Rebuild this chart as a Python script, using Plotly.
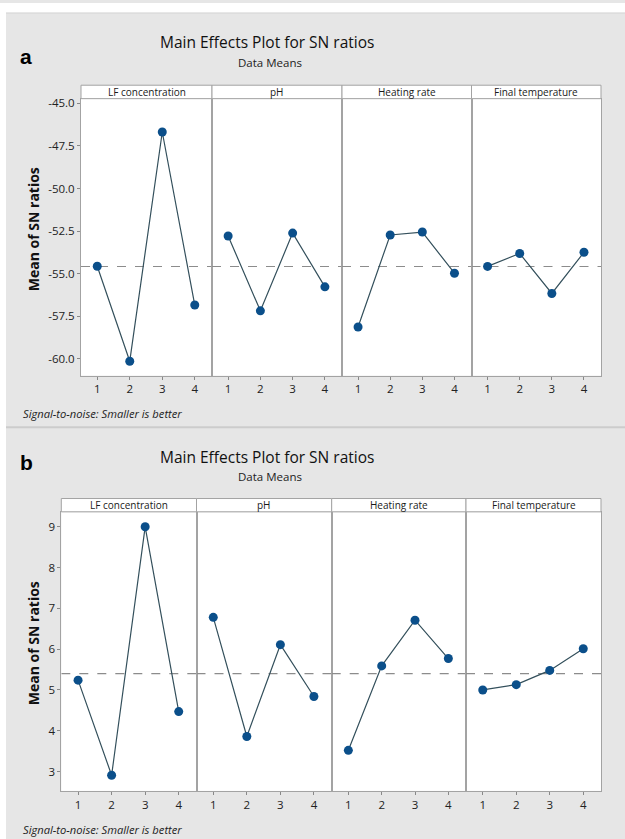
import plotly.graph_objects as go

W, H = 625, 839

factors = ["LF concentration", "pH", "Heating rate", "Final temperature"]
levels = [1, 2, 3, 4]

# Panel a: SN ratio means (negative)
a_lf = [-54.57, -60.15, -46.68, -56.85]
a_ph = [-52.79, -57.19, -52.62, -55.78]
a_hr = [-58.14, -52.73, -52.56, -54.98]
a_ft = [-54.58, -53.82, -56.17, -53.75]
a_yticks = [-45.0, -47.5, -50.0, -52.5, -55.0, -57.5, -60.0]

# Panel b: SN ratio means (positive)
b_lf = [5.24, 2.91, 9.00, 4.47]
b_ph = [6.78, 3.86, 6.11, 4.84]
b_hr = [3.52, 5.59, 6.71, 5.77]
b_ft = [5.00, 5.13, 5.48, 6.01]
b_yticks = [3, 4, 5, 6, 7, 8, 9]

title_text = "Main Effects Plot for SN ratios"
subtitle_text = "Data Means"
ytitle = "Mean of SN ratios"
note_text = "Signal-to-noise: Smaller is better"

FONT = "Open Sans, sans-serif"
MARKER = "#0b4f8a"
LINE = "#34505c"
BORDER = "#a3a3a3"
BG = "#e6e6e6"

panels = [
    dict(name="a", data=[a_lf, a_ph, a_hr, a_ft], yticks=a_yticks,
         xedges=[81, 212, 342, 471.5, 601], ytop=96, ybot=374, striptop=82.5,
         yrange=[-61.0, -44.72], fmt=".1f",
         title_y=39, sub_y=60, lab_y=54, ytitle_y=227, xtick_y=386, note_y=411.5),
    dict(name="b", data=[b_lf, b_ph, b_hr, b_ft], yticks=b_yticks,
         xedges=[61.3, 196.5, 331.7, 466, 601], ytop=510.7, ybot=790.7, striptop=497.3,
         yrange=[2.526, 9.366], fmt="d",
         title_y=456, sub_y=475.5, lab_y=461, ytitle_y=642.5, xtick_y=802.7, note_y=829.3),
]

def px(x):
    return x / W

def py(y):
    return 1 - y / H

fig = go.Figure()
shapes = []
annotations = []

shapes.append(dict(type="rect", xref="paper", yref="paper", x0=0, x1=1, y0=py(10), y1=1,
                   fillcolor="white", line=dict(width=0), layer="below"))
shapes.append(dict(type="rect", xref="paper", yref="paper", x0=0, x1=px(6), y0=0, y1=1,
                   fillcolor="white", line=dict(width=0), layer="below"))
shapes.append(dict(type="line", xref="paper", yref="paper", x0=px(6), x1=1, y0=py(10), y1=py(10),
                   line=dict(color="#d4d4d4", width=1), layer="below"))
shapes.append(dict(type="line", xref="paper", yref="paper", x0=px(6), x1=1, y0=py(425.7), y1=py(425.7),
                   line=dict(color="#cccccc", width=2), layer="below"))

layout_axes = {}
idx = 0
for p in panels:
    vals_all = [v for s in p["data"] for v in s]
    grand_mean = sum(vals_all) / len(vals_all)
    for j, (fac, vals) in enumerate(zip(factors, p["data"])):
        idx += 1
        xa = "x" if idx == 1 else f"x{idx}"
        ya = "y" if idx == 1 else f"y{idx}"
        xkey = "xaxis" if idx == 1 else f"xaxis{idx}"
        ykey = "yaxis" if idx == 1 else f"yaxis{idx}"
        x0, x1 = p["xedges"][j], p["xedges"][j + 1]
        xr = [0.5, 4.53]
        fig.add_trace(go.Scatter(x=xr, y=[grand_mean, grand_mean], mode="lines",
                                 line=dict(color="#8c8c8c", width=1.2, dash="dash"),
                                 xaxis=xa, yaxis=ya, showlegend=False, hoverinfo="skip"))
        fig.add_trace(go.Scatter(x=levels, y=vals, mode="lines+markers",
                                 line=dict(color=LINE, width=1.2),
                                 marker=dict(color=MARKER, size=9),
                                 xaxis=xa, yaxis=ya, showlegend=False))
        layout_axes[xkey] = dict(domain=[px(x0), px(x1)], anchor=ya, range=xr,
                                 tickmode="array", tickvals=levels, ticktext=[str(l) for l in levels],
                                 showline=True, linecolor=BORDER, linewidth=1, mirror=True,
                                 ticks="outside", ticklen=3, tickcolor="#888888",
                                 showgrid=False, zeroline=False,
                                 tickfont=dict(family=FONT, size=11.5, color="#222222"))
        yax = dict(domain=[py(p["ybot"]), py(p["ytop"])], anchor=xa, range=p["yrange"],
                   showline=True, linecolor=BORDER, linewidth=1, mirror=True,
                   showgrid=False, zeroline=False)
        if j == 0:
            if p["fmt"] == ".1f":
                tt = [f"{t:.1f}" for t in p["yticks"]]
            else:
                tt = [str(t) for t in p["yticks"]]
            yax.update(tickmode="array", tickvals=p["yticks"], ticktext=tt,
                       ticks="outside", ticklen=3, tickcolor="#888888",
                       tickfont=dict(family=FONT, size=11.5, color="#222222"))
        else:
            yax.update(showticklabels=False, ticks="")
        layout_axes[ykey] = yax
        shapes.append(dict(type="rect", xref="paper", yref="paper",
                           x0=px(x0), x1=px(x1), y0=py(p["ytop"]), y1=py(p["striptop"]),
                           fillcolor="white", line=dict(color=BORDER, width=1)))
        annotations.append(dict(text=fac, xref="paper", yref="paper",
                                x=px((x0 + x1) / 2), y=py((p["ytop"] + p["striptop"]) / 2),
                                xanchor="center", yanchor="middle", showarrow=False,
                                font=dict(family=FONT, size=10, color="#1a1a1a")))
    annotations.append(dict(text=title_text, xref="paper", yref="paper", x=px(266.5), y=py(p["title_y"]),
                            xanchor="center", yanchor="middle", showarrow=False,
                            font=dict(family=FONT, size=15.5, color="#111111")))
    annotations.append(dict(text=subtitle_text, xref="paper", yref="paper", x=px(270), y=py(p["sub_y"]),
                            xanchor="center", yanchor="middle", showarrow=False,
                            font=dict(family=FONT, size=11.5, color="#222222")))
    annotations.append(dict(text="<b>" + p["name"] + "</b>", xref="paper", yref="paper", x=px(26),
                            y=py(p["lab_y"]), xanchor="center", yanchor="middle", showarrow=False,
                            font=dict(family="Liberation Sans, Arial, sans-serif", size=21, color="#000000")))
    annotations.append(dict(text="<b>" + ytitle + "</b>", xref="paper", yref="paper", x=px(33),
                            y=py(p["ytitle_y"]), xanchor="center", yanchor="middle", showarrow=False,
                            textangle=-90,
                            font=dict(family=FONT, size=14, color="#111111")))
    annotations.append(dict(text="<i>" + note_text + "</i>", xref="paper", yref="paper", x=px(21),
                            y=py(p["note_y"]), xanchor="left", yanchor="middle", showarrow=False,
                            font=dict(family=FONT, size=11.2, color="#222222")))

fig.update_layout(width=W, height=H, margin=dict(l=0, r=0, t=0, b=0),
                  paper_bgcolor=BG, plot_bgcolor="white",
                  shapes=shapes, annotations=annotations, showlegend=False,
                  **layout_axes)

fig.write_html("out.html")
